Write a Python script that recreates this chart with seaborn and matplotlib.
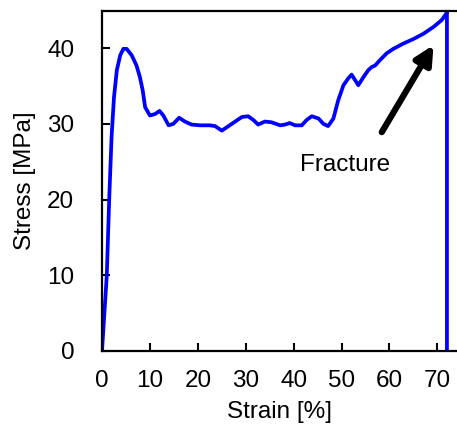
import matplotlib
matplotlib.use("Agg")
import matplotlib.pyplot as plt
import seaborn as sns
import pandas as pd

strain = [0.0, 1.0, 1.5, 2.0, 2.5, 3.1, 3.8, 4.45, 5.15, 6.2, 7.2, 7.9, 8.5, 9.0, 10.0, 11.1,
          12.0, 12.8, 13.9, 14.9, 16.1, 17.3, 18.7, 20.5, 22.5, 23.6, 25.0, 26.4, 27.8, 29.2,
          30.5, 31.6, 32.6, 34.0, 35.4, 37.2, 38.2, 39.2, 40.3, 41.7, 42.7, 43.8, 45.2, 46.2,
          47.2, 48.3, 49.3, 50.4, 51.4, 52.1, 52.8, 53.5, 54.6, 55.6, 56.3, 57.0, 58.0, 59.4,
          60.8, 62.9, 65.0, 67.1, 69.2, 70.9, 71.8, 72.0, 72.0]
stress = [0.0, 10.0, 20.0, 28.3, 33.5, 37.1, 39.05, 39.9, 39.9, 39.05, 37.7, 36.2, 34.4, 32.2,
          31.1, 31.3, 31.7, 31.1, 29.8, 30.0, 30.8, 30.3, 29.9, 29.8, 29.8, 29.7, 29.1, 29.7,
          30.3, 30.9, 31.0, 30.5, 29.9, 30.3, 30.2, 29.8, 29.9, 30.1, 29.8, 29.8, 30.5, 31.0,
          30.7, 30.0, 29.7, 30.7, 33.1, 35.1, 36.0, 36.5, 35.8, 35.1, 36.2, 37.1, 37.5, 37.7,
          38.4, 39.3, 39.9, 40.6, 41.2, 41.9, 42.8, 43.7, 44.5, 44.8, 0.0]

x_ticks = [0, 10, 20, 30, 40, 50, 60, 70]
y_ticks = [0, 10, 20, 30, 40]
x_label = "Strain [%]"
y_label = "Stress [MPa]"
annotation = "Fracture"

sns.set_theme(style="white")
plt.rcParams["font.family"] = ["Liberation Sans", "DejaVu Sans"]

df = pd.DataFrame({"strain": strain, "stress": stress})

fig = plt.figure(figsize=(4.57, 4.28), dpi=100)
ax = fig.add_axes([0.2232, 0.18, 0.7768, 0.7943])
sns.lineplot(data=df, x="strain", y="stress", sort=False, estimator=None,
             color="#0000ff", linewidth=2.7, ax=ax)

ax.set_xlim(0, 74.1)
ax.set_ylim(0, 44.9)
ax.set_xticks(x_ticks)
ax.set_yticks(y_ticks)
ax.set_xlabel(x_label, fontsize=17.5, color="#000000", labelpad=6)
ax.set_ylabel(y_label, fontsize=17.5, color="#000000", labelpad=8)
ax.tick_params(axis="y", pad=20)
ax.tick_params(axis="x", pad=14)
ax.tick_params(axis="both", direction="in", length=6, width=1.5, colors="#000000",
               labelsize=17.5, bottom=True, left=True)
for side in ["left", "bottom", "top"]:
    ax.spines[side].set_visible(True)
    ax.spines[side].set_color("#000000")
    ax.spines[side].set_linewidth(1.6)
ax.spines["right"].set_visible(False)

ax.annotate("", xy=(69.2, 40.4), xytext=(58.4, 28.9),
            arrowprops=dict(arrowstyle="-|>,head_length=1.1,head_width=0.55",
                            mutation_scale=10, color="#000000", lw=4.5,
                            shrinkA=0, shrinkB=0))
ax.text(50.7, 24.6, annotation, fontsize=17.5, ha="center", va="center", color="#000000")

fig.savefig("out.png", dpi=100)
